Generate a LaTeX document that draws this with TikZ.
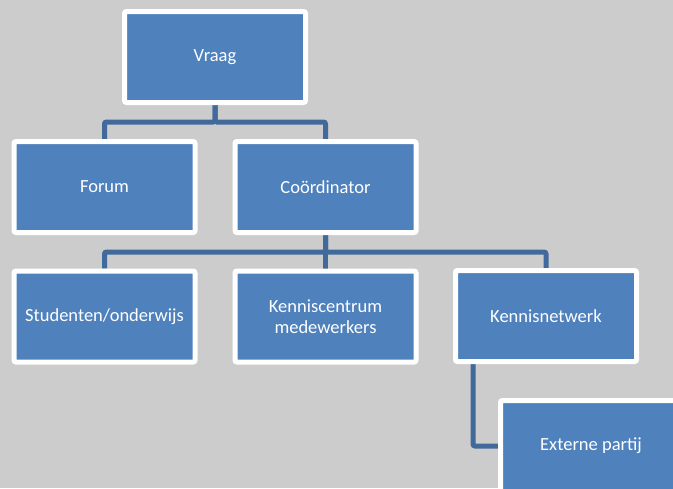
\documentclass[tikz,border=0pt]{standalone}
\usepackage{fontspec}
\setmainfont{Carlito}
\usetikzlibrary{backgrounds}
\definecolor{bg}{HTML}{CCCCCC}
\definecolor{boxblue}{HTML}{4F81BD}
\definecolor{linkblue}{HTML}{41699C}
\tikzset{
  orgbox/.style={draw=white, fill=boxblue, line width=5pt, rounded corners=2pt,
    minimum width=181pt, minimum height=91pt, inner sep=0pt, text=white,
    font=\fontsize{18.5}{21}\selectfont, align=center},
  link/.style={draw=linkblue, line width=5pt, rounded corners=2pt}
}
\begin{document}
\begin{tikzpicture}[x=1pt,y=-1pt]
\useasboundingbox (0,0) rectangle (673,488);
\begin{scope}[on background layer]
\fill[bg] (0,0) rectangle (673,488);
\end{scope}
\node[orgbox] (vraag) at (215,57) {Vraag};
\node[orgbox] (forum) at (104.5,187) {Forum};
\node[orgbox] (coord) at (325.5,187) {Coördinator};
\node[orgbox] (stud) at (104.5,316.5) {Studenten/onderwijs};
\node[orgbox] (kc) at (325.5,316.5) {Kenniscentrum\\medewerkers};
\node[orgbox] (kn) at (546,316) {Kennisnetwerk};
\node[orgbox] (ext) at (591,446) {Externe partij};
\coordinate (knl) at ([xshift=20pt]kn.south west);
\begin{scope}[on background layer]
\draw[link] (vraag.south) |- (104.5,122) -- (forum.north);
\draw[link] (vraag.south) |- (325.5,122) -- (coord.north);
\draw[link] (coord.south) |- (104.5,252) -- (stud.north);
\draw[link] (coord.south) -- (kc.north);
\draw[link] (coord.south) |- (546,252) -- (kn.north);
\draw[link] (knl) |- (ext.west);
\end{scope}
\end{tikzpicture}
\end{document}
